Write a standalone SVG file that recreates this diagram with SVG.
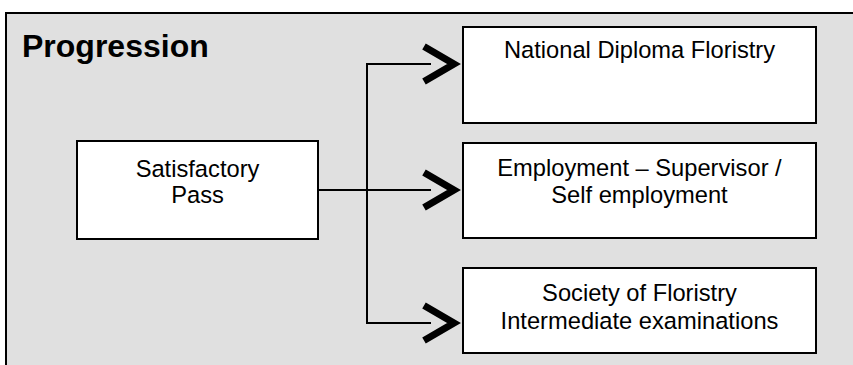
<svg xmlns="http://www.w3.org/2000/svg" width="853" height="365" viewBox="0 0 853 365">
  <style>
    .box { fill: #ffffff; stroke: #000000; stroke-width: 2; }
    .lbl { font-family: "Liberation Sans", Arial, sans-serif; font-size: 23.7px; fill: #000000; text-anchor: middle; }
    .ttl { font-family: "Liberation Sans", Arial, sans-serif; font-size: 32px; font-weight: bold; fill: #000000; }
    .ln { fill: none; stroke: #000000; stroke-width: 2; }
    .chev { fill: none; stroke: #000000; stroke-width: 7; stroke-linejoin: miter; stroke-linecap: butt; stroke-miterlimit: 10; }
  </style>
  <rect x="0" y="0" width="853" height="365" fill="#ffffff"/>
  <g id="frame">
    <rect x="6" y="13" width="850" height="360" fill="#e0e0e0" stroke="#000000" stroke-width="2"/>
    <text class="ttl" x="22" y="57">Progression</text>
  </g>
  <g id="connectors">
    <line class="ln" x1="318" y1="190" x2="367" y2="190"/>
    <line class="ln" x1="367" y1="63" x2="367" y2="324"/>
    <line class="ln" x1="366" y1="64" x2="431" y2="64"/>
    <line class="ln" x1="367" y1="190" x2="431" y2="190"/>
    <line class="ln" x1="366" y1="323" x2="431" y2="323"/>
    <polyline class="chev" points="424,46.5 454,64 424,81.5"/>
    <polyline class="chev" points="424,172.5 454,190 424,207.5"/>
    <polyline class="chev" points="424,305.5 454,323 424,340.5"/>
  </g>
  <g id="satisfactory">
    <rect class="box" x="77" y="141" width="241" height="98"/>
    <text class="lbl" x="197.5" y="177">Satisfactory</text>
    <text class="lbl" x="197.5" y="203">Pass</text>
  </g>
  <g id="national-diploma">
    <rect class="box" x="463" y="27" width="353" height="96"/>
    <text class="lbl" x="639.5" y="58">National Diploma Floristry</text>
  </g>
  <g id="employment">
    <rect class="box" x="463" y="143" width="353" height="95"/>
    <text class="lbl" x="639.5" y="176">Employment – Supervisor /</text>
    <text class="lbl" x="639.5" y="203">Self employment</text>
  </g>
  <g id="society">
    <rect class="box" x="463" y="268" width="353" height="85"/>
    <text class="lbl" x="639.5" y="301">Society of Floristry</text>
    <text class="lbl" x="639.5" y="329">Intermediate examinations</text>
  </g>
</svg>
